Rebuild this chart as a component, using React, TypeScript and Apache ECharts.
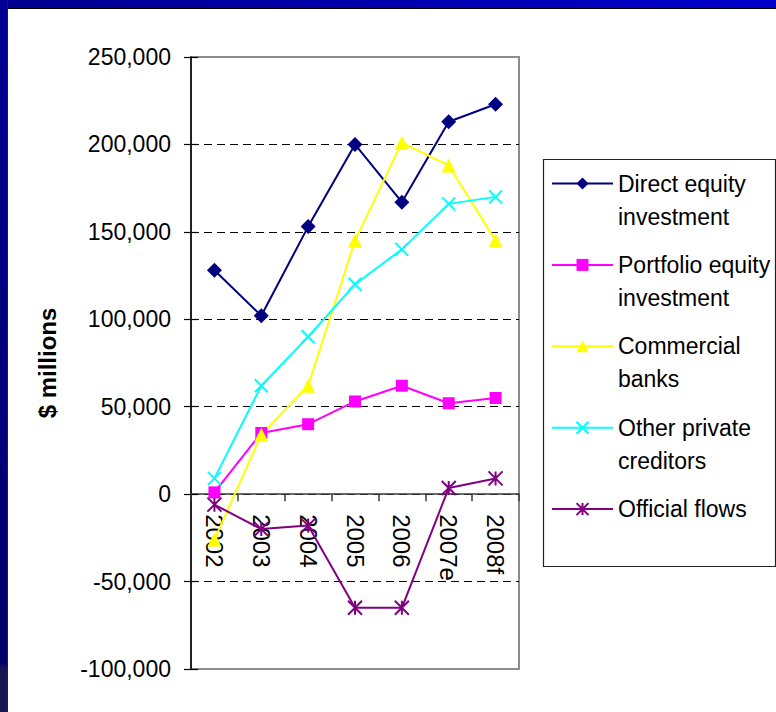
import { useEffect, useRef } from "react";
import * as echarts from "echarts";

// Net capital flows by type, $ millions
const years = ["2002", "2003", "2004", "2005", "2006", "2007e", "2008f"];
const directEquity = [128000, 102000, 153000, 200000, 167000, 213000, 223000];
const portfolioEquity = [1000, 35000, 40000, 53000, 62000, 52000, 55000];
const commercialBanks = [-26000, 34000, 62000, 145000, 201000, 188000, 145000];
const otherPrivate = [9000, 62000, 90000, 120000, 140000, 166000, 170000];
const officialFlows = [-6000, -20000, -18000, -65000, -65000, 3500, 9000];

const seriesNames = [
  "Direct equity investment",
  "Portfolio equity investment",
  "Commercial banks",
  "Other private creditors",
  "Official flows",
];
// legend text, broken over lines as in the key box
const legendLines = [
  ["Direct equity", "investment"],
  ["Portfolio equity", "investment"],
  ["Commercial", "banks"],
  ["Other private", "creditors"],
  ["Official flows"],
];

const yMin = -100000;
const yMax = 250000;
const yStep = 50000;

const FONT = 'Arial, "Liberation Sans", sans-serif';
const crossSymbol = "path://M0,0L10,10M10,0L0,10";
const starSymbol = "path://M0,0L10,10M10,0L0,10M5,0L5,10";

const CHART_W = 776;
const CHART_H = 712;
const GRID = { left: 191, top: 57, right: 257, bottom: 43 };

export default function App() {
  const ref = useRef<HTMLDivElement>(null);

  useEffect(() => {
    if (!ref.current) return;
    const chart = echarts.init(ref.current, undefined, { renderer: "svg" });

    // the category labels hang from the zero line, so their axis is lifted
    // from the grid bottom up to where zero falls on the value scale
    const plotH = CHART_H - GRID.top - GRID.bottom;
    const zeroLift = (plotH * (0 - yMin)) / (yMax - yMin);

    const makeSeries = (
      i: number,
      data: number[],
      color: string,
      symbol: string,
      symbolSize: number,
      stroked: boolean
    ) => ({
      name: seriesNames[i],
      type: "line",
      data,
      symbol,
      symbolSize,
      showAllSymbol: true,
      lineStyle: { color, width: 2 },
      itemStyle: stroked
        ? { color, borderColor: color, borderWidth: 2 }
        : { color, borderWidth: 0 },
      emphasis: { disabled: true },
    });

    chart.setOption({
      animation: false,
      textStyle: { fontFamily: FONT },
      grid: {
        ...GRID,
        containLabel: false,
        outerBoundsMode: "none",
        show: true,
        borderColor: "#8c8c8c",
        borderWidth: 2,
        backgroundColor: "transparent",
      },
      xAxis: [
        {
          type: "category",
          data: years,
          boundaryGap: true,
          axisLine: { onZero: true, lineStyle: { color: "#3a3a3a", width: 1.5 } },
          axisTick: { show: true, length: 7, inside: false, lineStyle: { color: "#3a3a3a", width: 1.5 } },
          axisLabel: { show: false },
          splitLine: { show: false },
        },
        {
          type: "category",
          data: years,
          boundaryGap: true,
          position: "bottom",
          offset: -zeroLift,
          axisLine: { show: false, onZero: false },
          axisTick: { show: false },
          axisLabel: {
            interval: 0,
            rotate: -90,
            margin: 20,
            fontSize: 24,
            color: "#000",
            fontFamily: FONT,
          },
          splitLine: { show: false },
        },
      ],
      yAxis: [
        {
          type: "value",
          min: yMin,
          max: yMax,
          interval: yStep,
          name: "$ millions",
          nameLocation: "middle",
          nameRotate: 90,
          nameGap: 132,
          nameTextStyle: { fontSize: 24, fontWeight: "bold", color: "#000", fontFamily: FONT },
          axisLine: { show: true, lineStyle: { color: "#000", width: 1.5 } },
          axisTick: { show: true, length: 7, lineStyle: { color: "#000", width: 1.2 } },
          axisLabel: {
            margin: 20,
            fontSize: 23,
            color: "#000",
            fontFamily: FONT,
            formatter: (v: number) => v.toLocaleString("en-US"),
          },
          splitLine: {
            show: true,
            showMinLine: false,
            showMaxLine: false,
            lineStyle: { color: "#000", width: 1, type: [8, 5] },
          },
        },
        {
          // inner half of the cross tick marks
          type: "value",
          min: yMin,
          max: yMax,
          interval: yStep,
          position: "left",
          axisLine: { show: false },
          axisTick: { show: true, inside: true, length: 7, lineStyle: { color: "#000", width: 1.2 } },
          axisLabel: { show: false },
          splitLine: { show: false },
        },
      ],
      legend: {
        orient: "vertical",
        left: 551,
        top: 134,
        padding: 0,
        itemWidth: 61,
        itemHeight: 15,
        itemGap: -17.6,
        selectedMode: false,
        data: seriesNames,
        formatter: (name: string) => {
          const lines = legendLines[seriesNames.indexOf(name)];
          // blank padding lines keep the first line level with the key icon
          return lines.length > 1 ? "\n" + lines.join("\n") : "\n" + lines[0] + "\n";
        },
        textStyle: { fontSize: 23, lineHeight: 33, color: "#000", fontFamily: FONT },
      },
      graphic: [
        {
          type: "rect",
          shape: { x: 543.5, y: 159.5, width: 232, height: 407 },
          style: { fill: "none", stroke: "#222", lineWidth: 1.2 },
          silent: true,
        },
      ],
      series: [
        makeSeries(0, directEquity, "#000080", "diamond", 15, false),
        makeSeries(1, portfolioEquity, "#ff00ff", "rect", 12, false),
        makeSeries(2, commercialBanks, "#ffff00", "triangle", 14, false),
        makeSeries(3, otherPrivate, "#00ffff", crossSymbol, 13, true),
        makeSeries(4, officialFlows, "#800080", starSymbol, 14, true),
      ],
    });

    return () => chart.dispose();
  }, []);

  return (
    <div
      style={{
        position: "fixed",
        left: 0,
        top: 0,
        width: CHART_W,
        height: CHART_H,
        background: "#fff",
        overflow: "hidden",
      }}
    >
      <div
        style={{
          position: "absolute",
          left: 0,
          top: 0,
          width: CHART_W,
          height: 8,
          background: "linear-gradient(to right, #000090, #0000cc)",
          borderBottom: "1px solid #000",
        }}
      />
      <div
        style={{
          position: "absolute",
          left: 0,
          top: 0,
          width: 7,
          height: CHART_H,
          background: "linear-gradient(to bottom, #000094 0%, #00006a 93%, #161650 94%, #161650 100%)",
          borderRight: "1px solid #222",
        }}
      />
      <div ref={ref} style={{ position: "absolute", left: 0, top: 0, width: CHART_W, height: CHART_H }} />
    </div>
  );
}
